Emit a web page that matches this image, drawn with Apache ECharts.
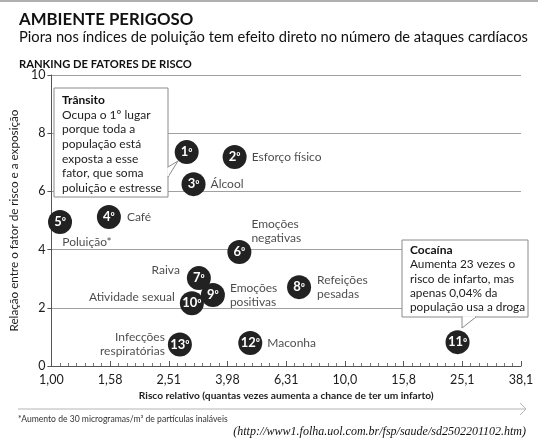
<!DOCTYPE html>
<html>
<head>
<meta charset="UTF-8">
<title>Ambiente perigoso</title>
<script src="https://cdn.jsdelivr.net/npm/echarts@6/dist/echarts.min.js"></script>
<style>
  html, body { margin: 0; padding: 0; background: #fff; }
  #chart { width: 538px; height: 442px; }
</style>
</head>
<body>
<div id="chart"></div>
<script>
// ranking dos fatores (1º .. 13º)
var ranks = [1, 2, 3, 4, 5, 6, 7, 8, 9, 10, 11, 12, 13];
var factorNames = ['Trânsito', 'Esforço físico', 'Álcool', 'Café', 'Poluição*',
  'Emoções\nnegativas', 'Raiva', 'Refeições\npesadas', 'Emoções\npositivas',
  'Atividade sexual', 'Cocaína', 'Maconha', 'Infecções\nrespiratórias'];
// risco relativo (escala logaritmica no eixo x)
var riskValues = [2.89, 4.21, 3.05, 1.57, 1.07, 4.37, 3.18, 6.98, 3.55, 3.01, 24.2, 4.76, 2.74];
// relação entre o fator de risco e a exposição
var exposureValues = [7.35, 7.18, 6.25, 5.12, 4.95, 3.92, 3.02, 2.71, 2.44, 2.16, 0.82, 0.79, 0.74];
var xTickLabels = ['1,00', '1,58', '2,51', '3,98', '6,31', '10,0', '15,8', '25,1', '38,1'];
var yTickLabels = ['0', '2', '4', '6', '8', '10'];

var FONT = 'Lato, "Noto Sans", sans-serif';
var TXT = '#1c1c1c';

// onde fica o nome de cada fator em volta do circulo (null = nota em caixa)
var namePlacement = {
  1: null,
  2: { position: 'right', distance: 5 },
  3: { position: 'right', distance: 5 },
  4: { position: 'right', distance: 6 },
  5: { position: 'bottom', distance: 1, offset: [27, 0] },
  6: { position: 'right', distance: 0, offset: [0, -21] },
  7: { position: 'left', distance: 7, offset: [0, -8] },
  8: { position: 'right', distance: 6 },
  9: { position: 'right', distance: 5 },
  10: { position: 'left', distance: 5, offset: [0, -6] },
  11: null,
  12: { position: 'right', distance: 5 },
  13: { position: 'left', distance: 3 }
};

var points = ranks.map(function (r, i) {
  return { value: [Math.log10(riskValues[i]), exposureValues[i]], rank: r, factor: factorNames[i] };
});

var nameData = points.map(function (p) {
  var pl = namePlacement[p.rank];
  if (!pl) {
    return { value: p.value, label: { show: false } };
  }
  return {
    value: p.value,
    label: {
      show: true,
      formatter: p.factor,
      position: pl.position,
      distance: pl.distance,
      offset: pl.offset || [0, 0],
      align: pl.position === 'left' ? 'right' : (pl.position === 'right' ? 'left' : 'center'),
      lineHeight: 14
    }
  };
});

var chart = echarts.init(document.getElementById('chart'));

var option = {
  animation: false,
  backgroundColor: '#fff',
  textStyle: { fontFamily: FONT },
  title: [
    { text: 'AMBIENTE PERIGOSO', left: 19, top: 11, padding: 0,
      textStyle: { fontFamily: FONT, fontSize: 16.8, fontWeight: 'bold', color: '#111' } },
    { text: 'Piora nos índices de poluição tem efeito direto no número de ataques cardíacos', left: 19, top: 30, padding: 0,
      textStyle: { fontFamily: FONT, fontSize: 14.7, fontWeight: 'normal', color: '#111' } },
    { text: 'RANKING DE FATORES DE RISCO', left: 19, top: 59, padding: 0,
      textStyle: { fontFamily: FONT, fontSize: 11.2, fontWeight: 'bold', color: '#111' } }
  ],
  grid: { left: 49, right: 17, top: 75, bottom: 76 },
  xAxis: {
    type: 'value',
    min: 0,
    max: 1.6,
    interval: 0.2,
    name: 'Risco relativo (quantas vezes aumenta a chance de ter um infarto)',
    nameLocation: 'middle',
    nameGap: 24,
    nameTextStyle: { fontFamily: FONT, fontSize: 10.2, fontWeight: 'bold', color: TXT },
    axisLine: { show: true, lineStyle: { color: '#555', width: 1 } },
    axisTick: { show: true, inside: true, length: 5, lineStyle: { color: '#555' } },
    minorTick: { show: true, splitNumber: 7, length: 3, lineStyle: { color: '#777' } },
    splitLine: { show: false },
    axisLabel: {
      fontFamily: FONT, fontSize: 12.5, color: TXT, margin: 7,
      formatter: function (v) { return xTickLabels[Math.round(v / 0.2)]; }
    }
  },
  yAxis: {
    type: 'value',
    min: 0,
    max: 10,
    interval: 2,
    name: 'Relação entre o fator de risco e a exposição',
    nameLocation: 'middle',
    nameGap: 24,
    nameTextStyle: { fontFamily: FONT, fontSize: 11.7, color: TXT },
    axisLine: { show: true, lineStyle: { color: '#555', width: 1 } },
    axisTick: { show: true, length: 4, lineStyle: { color: '#555' } },
    splitLine: { show: true, lineStyle: { color: '#a0a0a0', width: 1 } },
    axisLabel: {
      fontFamily: FONT, fontSize: 12.5, color: TXT, margin: 6,
      formatter: function (v) { return yTickLabels[Math.round(v / 2)]; }
    }
  },
  series: [
    {
      name: 'nomes',
      type: 'scatter',
      symbolSize: 24,
      itemStyle: { color: 'rgba(0,0,0,0)' },
      silent: true,
      z: 3,
      label: { fontFamily: FONT, fontSize: 12, color: TXT },
      data: nameData
    },
    {
      name: 'ranking',
      type: 'scatter',
      symbol: 'circle',
      symbolSize: 24,
      z: 4,
      itemStyle: { color: '#222', opacity: 1 },
      label: {
        show: true,
        position: 'inside',
        formatter: function (p) { return '{n|' + p.data.rank + '}{o|º}'; },
        rich: {
          n: { fontFamily: FONT, fontSize: 13, color: '#fff', fontWeight: 'bold' },
          o: { fontFamily: FONT, fontSize: 10.5, color: '#fff', fontWeight: 'bold' }
        }
      },
      data: points
    }
  ],
  graphic: [
    // fio no topo
    { type: 'line', shape: { x1: 0, y1: 1, x2: 538, y2: 1 }, style: { stroke: '#b0b0b0', lineWidth: 2 } },
    // caixa Trânsito
    { type: 'rect', z: 100, shape: { x: 54, y: 88, width: 114, height: 109 },
      style: { fill: '#fff', stroke: '#8a8a8a', lineWidth: 1 } },
    { type: 'polyline', z: 101, shape: { points: [[168, 167], [178, 161], [168, 177]] },
      style: { fill: '#fff', stroke: '#8a8a8a', lineWidth: 1 } },
    { type: 'line', z: 102, shape: { x1: 168, y1: 168, x2: 168, y2: 176 },
      style: { stroke: '#fff', lineWidth: 1.5 } },
    { type: 'text', z: 103, x: 62, y: 93,
      style: {
        text: '{b|Trânsito}\nOcupa o 1º lugar\nporque toda a\npopulação está\nexposta a esse\nfator, que soma\npoluição e estresse',
        font: '12px ' + FONT, fill: TXT, lineHeight: 14.6,
        rich: { b: { fontFamily: FONT, fontSize: 12, fontWeight: 'bold', fill: '#111', lineHeight: 14.6 } }
      } },
    // caixa Cocaína
    { type: 'rect', z: 100, shape: { x: 402, y: 240, width: 126, height: 77 },
      style: { fill: '#fff', stroke: '#8a8a8a', lineWidth: 1 } },
    { type: 'polyline', z: 101, shape: { points: [[462, 317], [462, 328], [476, 317]] },
      style: { fill: '#fff', stroke: '#8a8a8a', lineWidth: 1 } },
    { type: 'line', z: 102, shape: { x1: 463, y1: 317, x2: 475, y2: 317 },
      style: { stroke: '#fff', lineWidth: 1.5 } },
    { type: 'text', z: 103, x: 410, y: 243,
      style: {
        text: '{b|Cocaína}\nAumenta 23 vezes o\nrisco de infarto, mas\napenas 0,04% da\npopulação usa a droga',
        font: '11.8px ' + FONT, fill: TXT, lineHeight: 14.3,
        rich: { b: { fontFamily: FONT, fontSize: 12, fontWeight: 'bold', fill: '#111', lineHeight: 14.3 } }
      } },
    // seta do eixo x
    { type: 'line', shape: { x1: 18, y1: 409, x2: 526, y2: 409 }, style: { stroke: '#b5b5b5', lineWidth: 1 } },
    { type: 'polyline', shape: { points: [[520, 403], [526, 409], [520, 415]] }, style: { stroke: '#b5b5b5', lineWidth: 1, fill: null } },
    // nota de rodape e fonte
    { type: 'text', x: 18, y: 419,
      style: { text: '*Aumento de 30 microgramas/m³ de partículas inaláveis', font: '8.6px ' + FONT, fill: '#333', verticalAlign: 'middle' } },
    { type: 'text', x: 526, y: 432,
      style: { text: '(http://www1.folha.uol.com.br/fsp/saude/sd2502201102.htm)', font: 'italic 12px "Liberation Serif", serif',
        fill: '#111', align: 'right', verticalAlign: 'middle' } }
  ]
};

chart.setOption(option);
</script>
</body>
</html>
